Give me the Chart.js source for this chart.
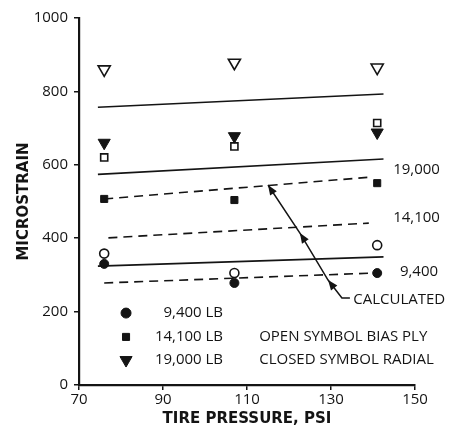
<!DOCTYPE html>
<html><head><meta charset="utf-8">
<script src="https://cdn.jsdelivr.net/npm/chart.js@4/dist/chart.umd.min.js"></script>
<style>html,body{margin:0;padding:0;background:#fff}#wrap{width:451px;height:431px}</style>
</head><body><div id="wrap"><canvas id="c" width="451" height="431"></canvas></div>
<script>
// Data (tire pressure psi vs microstrain)
const pressures = [76, 107, 141];
const biasCircle = [358, 305, 381];     // 9,400 LB open (bias ply)
const radialCircle = [330, 278, 305];   // 9,400 LB closed (radial)
const biasSquare = [620, 650, 714];     // 14,100 LB open
const radialSquare = [507, 504, 550];   // 14,100 LB closed
const biasTri = [860, 878, 865];        // 19,000 LB open
const radialTri = [660, 678, 688];      // 19,000 LB closed
// fitted solid lines (bias ply)
const solidX = [74.5, 142.5];
const solid19000 = [757, 793];
const solid14100 = [574, 616];
const solid9400 = [324, 349];
// calculated dashed lines
const dashX = [76, 140];
const dashX14100 = [77, 139];
const calc19000 = [507, 567];
const calc14100 = [401, 441];
const calc9400 = [278, 305];
// calculated leader line
const leaderX = [115, 122.6, 129.3, 132.6, 134.5];
const leaderY = [545, 414, 286, 237, 237];
const arrowIdx = [0, 1, 2];
// text labels
const lineLabels = [
  {text:'19,000', x:144.8, y:586},
  {text:'14,100', x:144.8, y:455},
  {text:'9,400', x:146.4, y:308},
  {text:'CALCULATED', x:135.3, y:232}
];
const legendItems = [
  {text:'9,400 LB', style:'circle', y:196},
  {text:'14,100 LB', style:'rect', y:131},
  {text:'19,000 LB', style:'triangle', y:68}
];
const legendMarkerX = 81.2, legendTextRightX = 104.3;
const noteLines = [{text:'OPEN SYMBOL BIAS PLY', y:131},{text:'CLOSED SYMBOL RADIAL', y:68}];
const noteX = 112.9;
const xTicks = [70, 90, 110, 130, 150];
const yTicks = [0, 200, 400, 600, 800, 1000];

const INK = '#141414';
const pts = (xs, ys) => xs.map((x,i)=>({x, y: ys[i]}));
const markerSet = (ys, style, filled, r, rot) => ({
  data: pts(pressures, ys), showLine:false, pointStyle:style, pointRadius:r, pointRotation: rot||0,
  backgroundColor: filled ? INK : '#fff', borderColor: INK, pointBorderWidth: filled?1:1.6
});
const lineSet = (xs, ys, dash) => ({
  data: pts(xs, ys), showLine:true, pointRadius:0, borderColor:INK, borderWidth:1.6,
  borderDash: dash ? [9,6] : []
});

const annot = {
  id:'annot',
  afterDatasetsDraw(chart){
    const ctx = chart.ctx, xs = chart.scales.x, ys = chart.scales.y;
    ctx.save();
    ctx.fillStyle = INK; ctx.strokeStyle = INK;
    ctx.font = '15px "Open Sans"';
    ctx.textBaseline = 'middle';
    ctx.textAlign = 'left';
    lineLabels.forEach(l => ctx.fillText(l.text, xs.getPixelForValue(l.x), ys.getPixelForValue(l.y)));
    arrowIdx.forEach(i => {
      const px = xs.getPixelForValue(leaderX[i]), py = ys.getPixelForValue(leaderY[i]);
      const qx = xs.getPixelForValue(leaderX[3]), qy = ys.getPixelForValue(leaderY[3]);
      const ang = Math.atan2(py-qy, px-qx);
      const L = 10, W = 4;
      ctx.beginPath();
      ctx.moveTo(px, py);
      ctx.lineTo(px - L*Math.cos(ang) + W*Math.sin(ang), py - L*Math.sin(ang) - W*Math.cos(ang));
      ctx.lineTo(px - L*Math.cos(ang) - W*Math.sin(ang), py - L*Math.sin(ang) + W*Math.cos(ang));
      ctx.closePath(); ctx.fill();
    });
    legendItems.forEach(it => {
      const mx = xs.getPixelForValue(legendMarkerX), my = ys.getPixelForValue(it.y);
      Chart.helpers.drawPoint(ctx, {pointStyle: it.style, radius: it.style==='triangle'?7:5, rotation: it.style==='triangle'?180:0, borderWidth:1}, mx, my);
      ctx.fillStyle = INK;
      ctx.textAlign = 'right';
      ctx.fillText(it.text, xs.getPixelForValue(legendTextRightX), my);
    });
    ctx.textAlign = 'left';
    noteLines.forEach(n => ctx.fillText(n.text, xs.getPixelForValue(noteX), ys.getPixelForValue(n.y)));
    ctx.restore();
  }
};

new Chart(document.getElementById('c'), {
  type:'scatter',
  data:{datasets:[
    lineSet(solidX, solid19000, false),
    lineSet(solidX, solid14100, false),
    lineSet(solidX, solid9400, false),
    lineSet(dashX, calc19000, true),
    lineSet(dashX14100, calc14100, true),
    lineSet(dashX, calc9400, true),
    Object.assign(lineSet(leaderX, leaderY, false), {borderWidth:1.5}),
    markerSet(biasTri, 'triangle', false, 7, 180),
    markerSet(radialTri, 'triangle', true, 7, 180),
    markerSet(biasSquare, 'rect', false, 5),
    markerSet(radialSquare, 'rect', true, 5),
    markerSet(biasCircle, 'circle', false, 4.5),
    markerSet(radialCircle, 'circle', true, 4.5)
  ]},
  options:{
    responsive:false, animation:false, events:[],
    layout:{padding:{left:0, right:36, top:18, bottom:0}},
    plugins:{legend:{display:false}, tooltip:{enabled:false}},
    scales:{
      x:{type:'linear', min:70, max:150,
        afterBuildTicks: s => { s.ticks = xTicks.map(v=>({value:v})); },
        afterFit: s => { s.height = 46; },
        grid:{drawOnChartArea:false, drawTicks:true, tickLength:5, color:INK, lineWidth:1.5},
        border:{display:true, width:2.2, color:INK},
        ticks:{color:INK, font:{family:'"Open Sans"', size:15}, padding:1, maxRotation:0, callback: v => String(v)},
        title:{display:true, text:'TIRE PRESSURE, PSI', color:INK, font:{family:'"DejaVu Sans"', size:15, weight:'bold'}, padding:{top:0,bottom:3}}
      },
      y:{type:'linear', min:0, max:1000,
        afterBuildTicks: s => { s.ticks = yTicks.map(v=>({value:v})); },
        afterFit: s => { s.width = 79; },
        grid:{drawOnChartArea:false, drawTicks:true, tickLength:5, color:INK, lineWidth:1.5},
        border:{display:true, width:2.2, color:INK},
        ticks:{color:INK, font:{family:'"Open Sans"', size:15}, padding:6, callback: v => String(v)},
        title:{display:true, text:'MICROSTRAIN', color:INK, font:{family:'"DejaVu Sans"', size:15, weight:'bold'}, padding:{top:15,bottom:0}}
      }
    }
  },
  plugins:[annot]
});
</script>
</body></html>
